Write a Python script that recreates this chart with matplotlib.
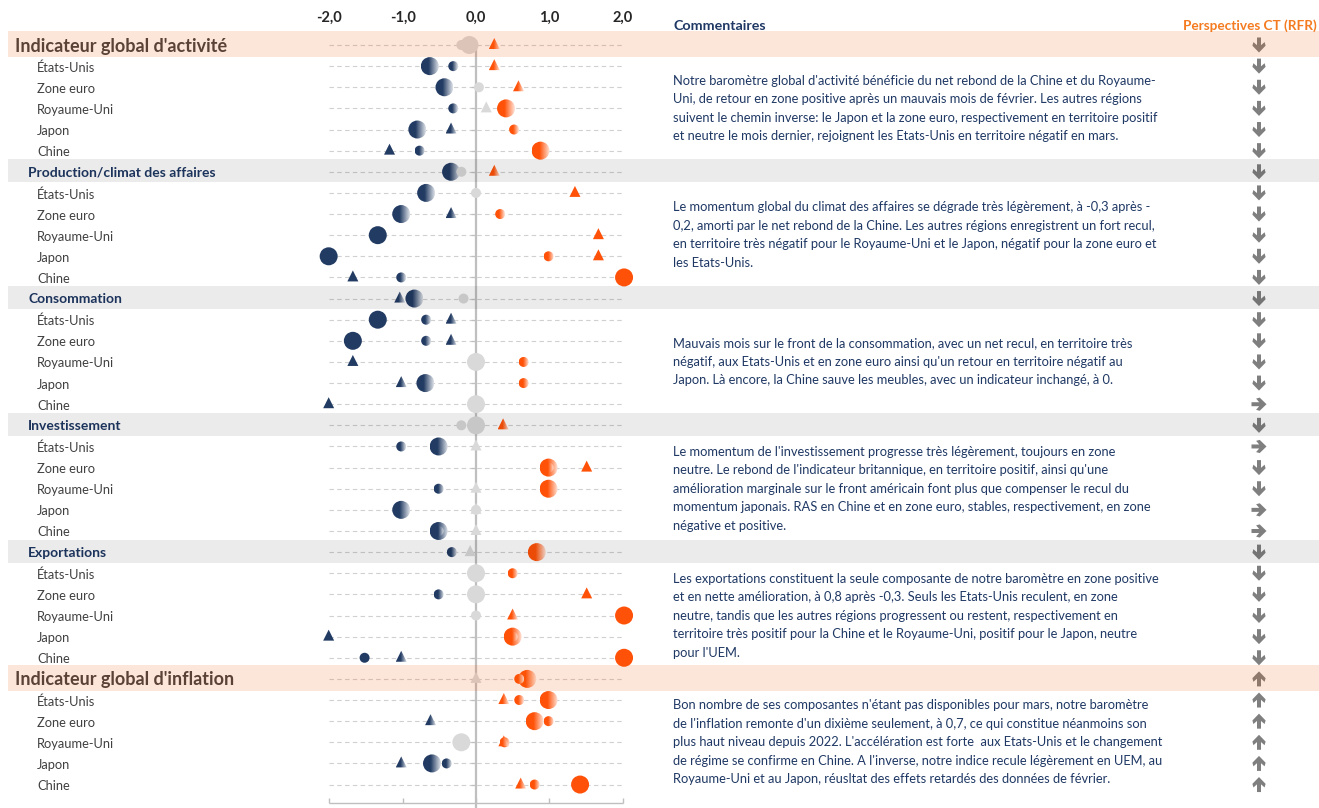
import numpy as np
import matplotlib
matplotlib.use('Agg')
import matplotlib.pyplot as plt
from matplotlib.patches import Circle, Polygon, Rectangle
from matplotlib.transforms import ScaledTranslation, blended_transform_factory
from matplotlib.colors import to_rgb

plt.rcParams['font.family'] = ['Lato', 'DejaVu Sans']

# ── data ─────────────────────────────────────────────────────────────────────
SECTIONS = ["Indicateur global d'activité", 'Production/climat des affaires',
            'Consommation', 'Investissement', 'Exportations',
            "Indicateur global d'inflation"]
COUNTRIES = ['États-Unis', 'Zone euro', 'Royaume-Uni', 'Japon', 'Chine']

# one value per row: section line then the 5 countries
big_circle = [-0.09, -0.63, -0.43, 0.41, -0.80, 0.88,      # activité
              -0.34, -0.68, -1.02, -1.34, -2.01, 2.02,     # production
              -0.84, -1.34, -1.68, 0.00, -0.69, 0.00,      # consommation
              0.00, -0.51, 0.99, 0.99, -1.02, -0.51,       # investissement
              0.83, 0.00, 0.00, 2.02, 0.50, 2.02,          # exportations
              0.70, 0.99, 0.80, -0.20, -0.60, 1.42]        # inflation
small_circle = [-0.20, -0.31, 0.04, -0.31, 0.52, -0.77,
                -0.20, 0.00, 0.33, np.nan, 0.99, -1.02,
                -0.17, -0.68, -0.68, 0.65, 0.65, 0.00,
                -0.20, -1.02, 0.99, -0.51, 0.00, -0.51,
                -0.33, 0.50, -0.51, 0.00, 0.50, -1.52,
                0.59, 0.59, 0.99, 0.39, -0.40, 0.80]
triangle = [0.25, 0.25, 0.58, 0.14, -0.34, -1.18,
            0.25, 1.35, -0.34, 1.67, 1.67, -1.68,
            -1.04, -0.34, -0.34, -1.68, -1.02, -2.01,
            0.37, 0.00, 1.51, 0.00, 0.00, 0.00,
            -0.08, 0.00, 1.51, 0.50, -2.01, -1.02,
            0.00, 0.38, -0.62, 0.38, -1.02, 0.61]
outlook = (['bas'] * 17 + ['droite', 'bas', 'droite', 'bas', 'bas', 'droite', 'droite']
           + ['bas'] * 6 + ['haut'] * 6)

TICKS = [-2, -1, 0, 1, 2]

COMMENTS = [
    ["Notre baromètre global d'activité bénéficie du net rebond de la Chine et du Royaume-",
     "Uni, de retour en zone positive après un mauvais mois de février. Les autres régions",
     "suivent le chemin inverse: le Japon et la zone euro, respectivement en territoire positif",
     "et neutre le mois dernier, rejoignent les Etats-Unis en territoire négatif en mars."],
    ["Le momentum global du climat des affaires se dégrade très légèrement, à -0,3 après -",
     "0,2, amorti par le net rebond de la Chine. Les autres régions enregistrent un fort recul,",
     "en territoire très négatif pour le Royaume-Uni et le Japon, négatif pour la zone euro et",
     "les Etats-Unis."],
    ["Mauvais mois sur le front de la consommation, avec un net recul, en territoire très",
     "négatif, aux Etats-Unis et en zone euro ainsi qu'un retour en territoire négatif au",
     "Japon. Là encore, la Chine sauve les meubles, avec un indicateur inchangé, à 0."],
    ["Le momentum de l'investissement progresse très légèrement, toujours en zone",
     "neutre. Le rebond de l'indicateur britannique, en territoire positif, ainsi qu'une",
     "amélioration marginale sur le front américain font plus que compenser le recul du",
     "momentum japonais. RAS en Chine et en zone euro, stables, respectivement, en zone",
     "négative et positive."],
    ["Les exportations constituent la seule composante de notre baromètre en zone positive",
     "et en nette amélioration, à 0,8 après -0,3. Seuls les Etats-Unis reculent, en zone",
     "neutre, tandis que les autres régions progressent ou restent, respectivement en",
     "territoire très positif pour la Chine et le Royaume-Uni, positif pour le Japon, neutre",
     "pour l'UEM."],
    ["Bon nombre de ses composantes n'étant pas disponibles pour mars, notre baromètre",
     "de l'inflation remonte d'un dixième seulement, à 0,7, ce qui constitue néanmoins son",
     "plus haut niveau depuis 2022. L'accélération est forte  aux Etats-Unis et le changement",
     "de régime se confirme en Chine. A l'inverse, notre indice recule légèrement en UEM, au",
     "Royaume-Uni et au Japon, réusltat des effets retardés des données de février."],
]

# ── palette ──────────────────────────────────────────────────────────────────
NAVY   = '#223b63'
ORANGE = '#ff5208'
GRAY   = '#d9d9d9'
TEXT   = '#404040'
BLUE_T = '#1f3864'
PERSP  = '#f47b20'
NEUTRAL = 0.2      # |value| up to this is drawn grey
SOLID   = 1.15     # |value| from this is drawn without gradient

W, H, DPI = 1319, 808, 100
X0_PX, UNIT_PX = 476, 73.3      # where 0 sits, width of one unit
ROW0_PX, ROW_PX = 45, 21.13     # first row, row pitch

fig = plt.figure(figsize=(W / DPI, H / DPI), dpi=DPI, facecolor='white')
ax = fig.add_axes([0, 0, 1, 1])
ax.axis('off')
XLIM = (-X0_PX / UNIT_PX, (W - X0_PX) / UNIT_PX)
YLIM = ((H - ROW0_PX) / ROW_PX, -ROW0_PX / ROW_PX)
ax.set_xlim(*XLIM)
ax.set_ylim(*YLIM)
ax.set_autoscale_on(False)

fx = blended_transform_factory(fig.transFigure, ax.transData)   # x in fig fraction, y in rows


def py(px):
    """pixel row from top -> row units"""
    return (px - ROW0_PX) / ROW_PX


n_rows = len(big_circle)
rows = np.arange(n_rows)
header_rows = [i * 6 for i in range(len(SECTIONS))]

# ── grid ─────────────────────────────────────────────────────────────────────
ax.hlines(rows, -2, 2, colors='#d0d0d0', linestyles=(0, (4, 3)), lw=0.8, zorder=1)
ax.vlines(0, -0.25, YLIM[0], colors='#bfbfbf', lw=1.6, zorder=2)
ax.hlines(rows, -0.07, 0, colors='#bfbfbf', lw=0.9, zorder=2)
y_axis = py(803)
ax.hlines(y_axis, -2, 2, colors='#bfbfbf', lw=1.0, zorder=2)
ax.vlines(TICKS, y_axis - 0.22, y_axis, colors='#bfbfbf', lw=1.0, zorder=2)
for t in TICKS:
    ax.text(t, py(18), f'{t:.1f}'.replace('.', ','), ha='center', va='center',
            fontsize=10.5, fontweight='bold', color='#262626')


# ── markers ──────────────────────────────────────────────────────────────────
def colour_of(v):
    if abs(v) <= NEUTRAL:
        return GRAY
    return ORANGE if v > 0 else NAVY


def gradient(color):
    base = np.array(to_rgb(color))
    t = np.linspace(0, 1, 64)
    mix = np.clip((t - 0.42) / 0.58, 0, 1)[:, None] * 0.85
    return (base * (1 - mix) + mix)[None, :, :]


def draw_marker(kind, v, row, z):
    if np.isnan(v):
        return
    tr = fig.dpi_scale_trans + ScaledTranslation(v, row, ax.transData)
    col = colour_of(v)
    if kind == 'big':
        patch, hw = Circle((0, 0), 9 / DPI), 9
    elif kind == 'small':
        patch, hw = Circle((0, 0), 5 / DPI), 5
    else:
        patch = Polygon(np.array([(-5.5, -4), (5.5, -4), (0, 7)]) / DPI, closed=True)
        hw = 5.5
    patch.set_transform(tr)
    if col == GRAY or abs(v) >= SOLID:
        patch.set_facecolor(col)
        patch.set_edgecolor('none')
        patch.set_zorder(z)
        ax.add_patch(patch)
    else:
        im = ax.imshow(gradient(col), extent=(-hw / DPI, hw / DPI, -10 / DPI, 10 / DPI),
                       transform=tr, aspect='auto', interpolation='bilinear', zorder=z)
        im.set_clip_path(patch)


for r in rows:
    draw_marker('big', big_circle[r], r, 3)
    draw_marker('small', small_circle[r], r, 4)
    draw_marker('tri', triangle[r], r, 5)

# ── labels on the left ───────────────────────────────────────────────────────
for s, name in enumerate(SECTIONS):
    h = header_rows[s]
    if s in (0, len(SECTIONS) - 1):
        ax.text(15 / W, h + 0.05, name, transform=fx, ha='left', va='center',
                fontsize=13, fontweight='bold', color=TEXT)
    else:
        ax.text(28 / W, h + 0.03, name, transform=fx, ha='left', va='center',
                fontsize=10, fontweight='bold', color=BLUE_T)
    for c, country in enumerate(COUNTRIES):
        ax.text(37 / W, h + 1 + c + 0.07, country, transform=fx, ha='left', va='center',
                fontsize=9.3, color=TEXT)

# ── commentary ───────────────────────────────────────────────────────────────
ax.text(673 / W, py(26), 'Commentaires', transform=fx, ha='left', va='center',
        fontsize=10.3, fontweight='bold', color=BLUE_T)
ax.text(1317 / W, py(26), 'Perspectives CT (RFR)', transform=fx, ha='right', va='center',
        fontsize=9.8, fontweight='bold', color=PERSP)

# size the comment font so the first line spans 673 -> 1162 px as in the original
renderer = fig.canvas.get_renderer()
probe = ax.text(0, 0, COMMENTS[0][0], fontsize=10)
comment_size = 10 * 489 / probe.get_window_extent(renderer).width
probe.remove()

pitch = 18.5 / ROW_PX
for s, lines in enumerate(COMMENTS):
    centre = header_rows[s] + 3
    n = len(lines)
    for i, line in enumerate(lines):
        ax.text(673 / W, centre + (i - (n - 1) / 2) * pitch, line, transform=fx,
                ha='left', va='center', fontsize=comment_size, color=BLUE_T)

# ── outlook arrows ───────────────────────────────────────────────────────────
ARROW_DOWN = np.array([(-2.0, 7.5), (2.0, 7.5), (2.0, -0.2), (5.6, 2.9), (6.6, -0.7),
                       (0, -7.5), (-6.6, -0.7), (-5.6, 2.9), (-2.0, -0.2)])
for r, d in zip(rows, outlook):
    pts = ARROW_DOWN.copy()
    if d == 'haut':
        pts[:, 1] *= -1
    elif d == 'droite':
        pts = np.column_stack([-pts[:, 1], pts[:, 0]])
    tr = fig.dpi_scale_trans + ScaledTranslation(1259 / W, r, fx)
    ax.add_patch(Polygon(pts / DPI, closed=True, transform=tr,
                         facecolor='#7f7f7f', edgecolor='none', zorder=5))

# ── bands (drawn over everything, translucent) ───────────────────────────────
for s, h in enumerate(header_rows):
    if s in (0, len(SECTIONS) - 1):
        band_h, col, a = 26 / ROW_PX, '#f15200', 0.15
    else:
        band_h, col, a = 23 / ROW_PX, '#000000', 0.08
    ax.add_patch(Rectangle((8 / W, h - 0.05 - band_h / 2), 1 - 8 / W, band_h, transform=fx,
                           facecolor=col, edgecolor='none', alpha=a, zorder=10))

ax.set_xlim(*XLIM)
ax.set_ylim(*YLIM)
fig.savefig('out.png', dpi=DPI, facecolor='white')
